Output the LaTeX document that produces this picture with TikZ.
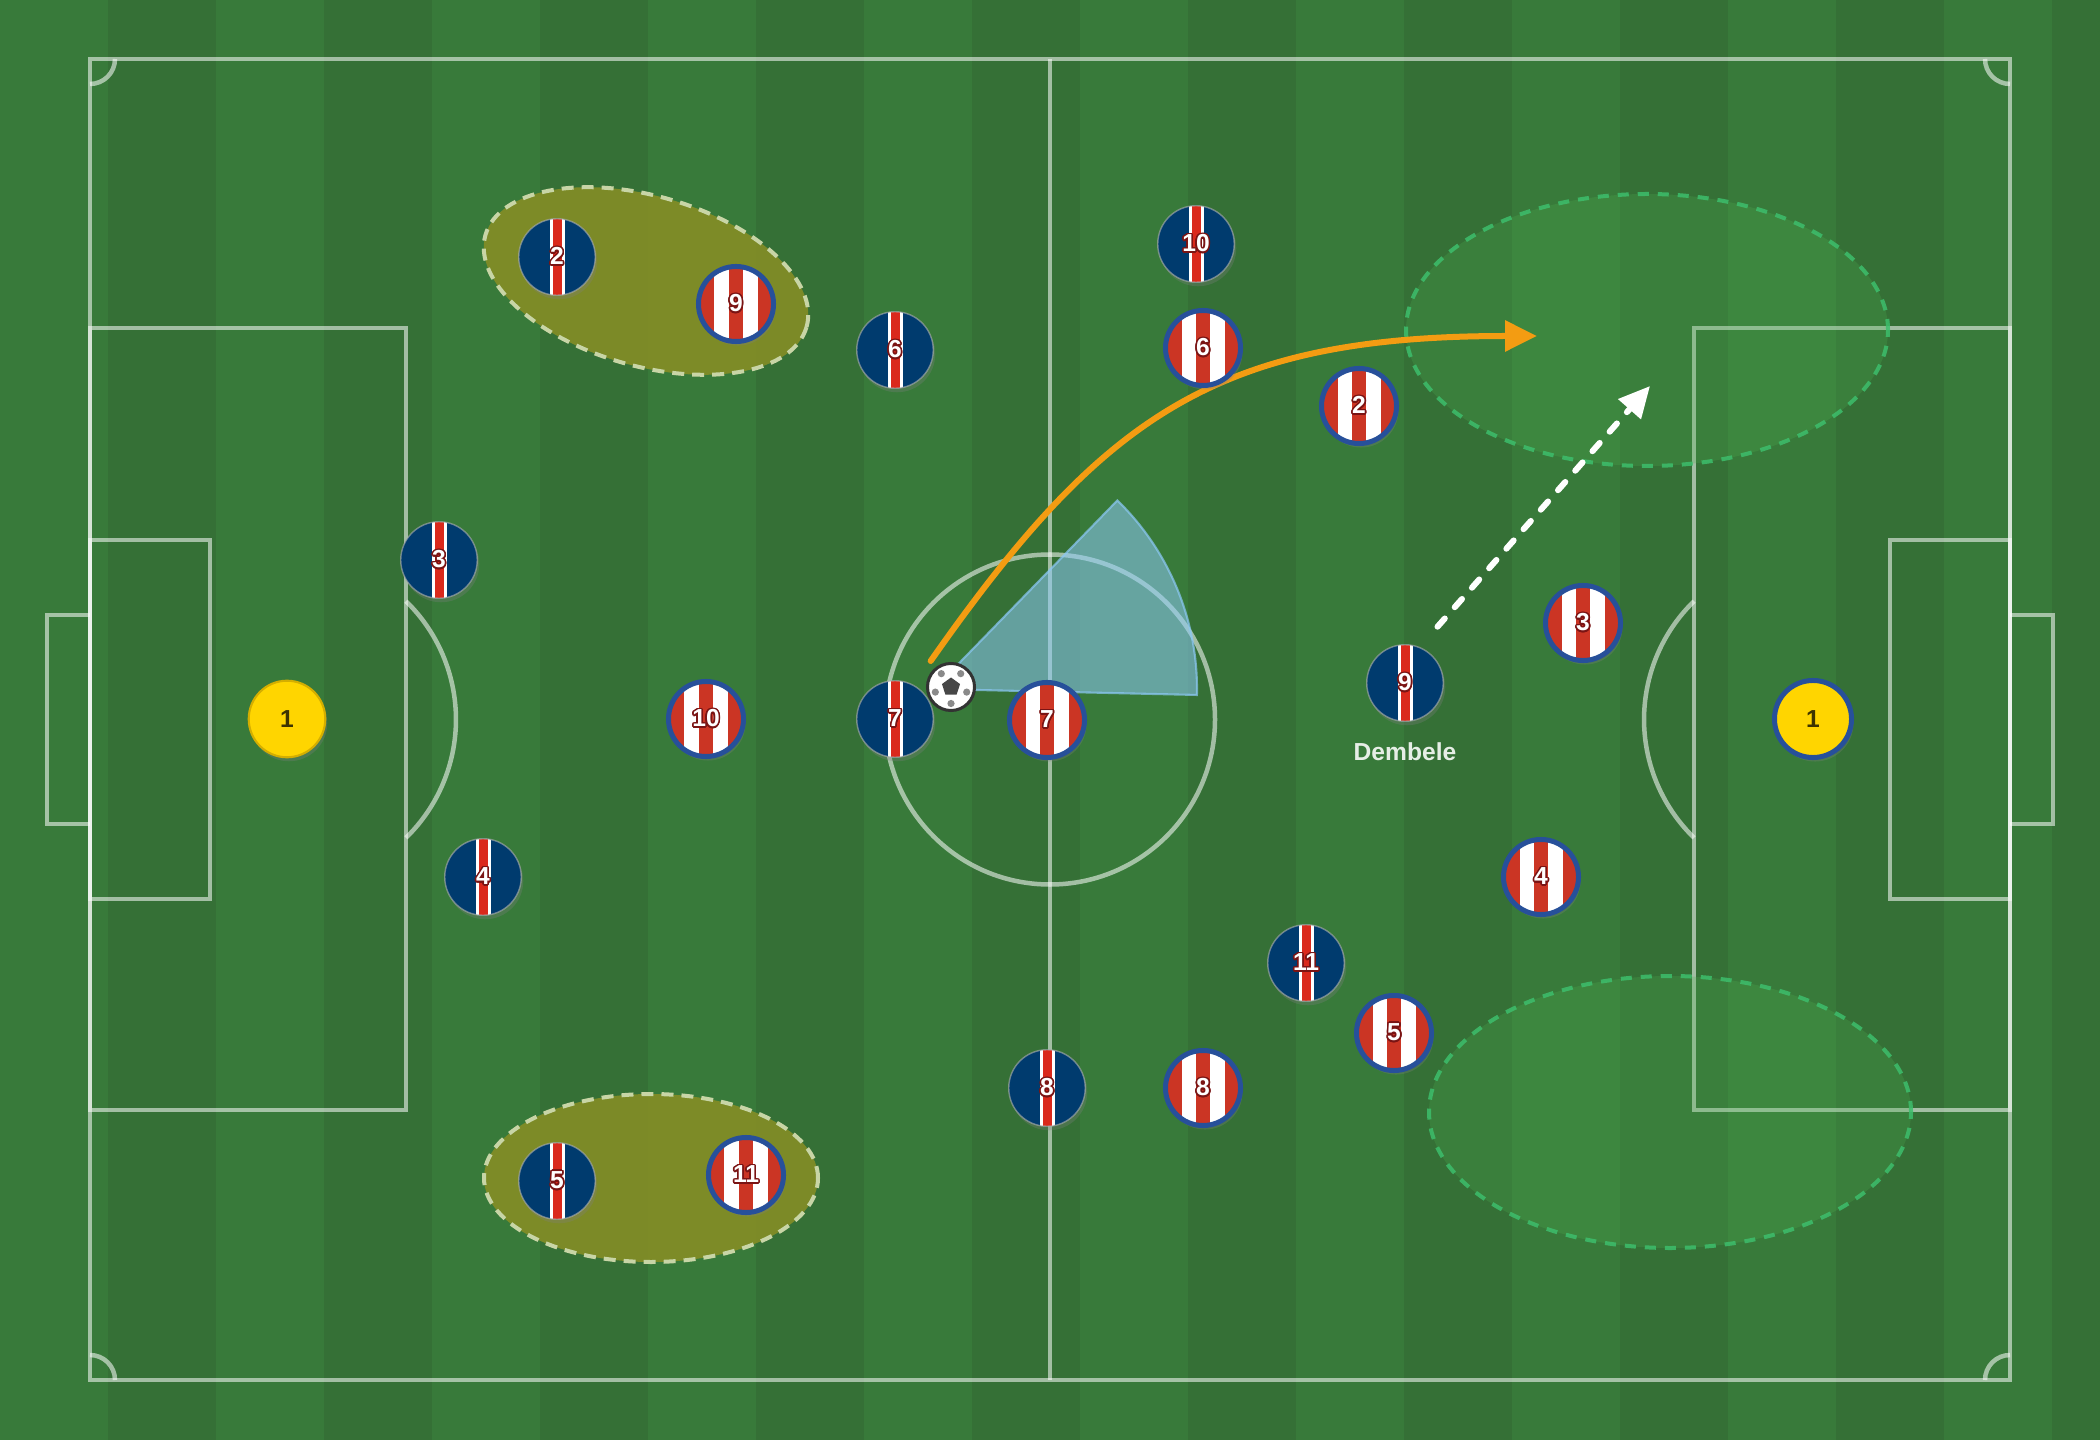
\documentclass[tikz,border=0pt]{standalone}
\usepackage{fontspec}
\setmainfont{Liberation Sans}
\usepackage{contour}
\contourlength{0.45pt}
\usepackage{tikz}
\usetikzlibrary{positioning,arrows.meta,shadows}
\tikzset{>={Triangle[length=0.31cm,width=0.29cm]}}

\definecolor{grasslight}{HTML}{387A3A}
\definecolor{grassdark}{HTML}{357036}
\definecolor{psgblue}{HTML}{003B6E}
\definecolor{psgred}{HTML}{DA291C}
\definecolor{atmred}{HTML}{CB3524}
\definecolor{atmblue}{HTML}{27509A}
\definecolor{numred}{HTML}{7A1414}
\definecolor{keeperyellow}{HTML}{FFD500}
\definecolor{keeperrim}{HTML}{D4AE00}
\definecolor{keepernum}{HTML}{3D3400}
\definecolor{passorange}{HTML}{F39C12}
\definecolor{pairolive}{HTML}{838D26}
\definecolor{pairrim}{HTML}{C8D5A6}
\definecolor{zonegreen}{HTML}{4CAF50}
\definecolor{zonerim}{HTML}{3DBE6C}
\definecolor{conefill}{HTML}{8CC8F5}
\definecolor{ballrim}{HTML}{333333}
\definecolor{balldot}{HTML}{8A8A8A}
\definecolor{namewhite}{HTML}{E6EEE6}

\tikzset{
  pitchline/.style={draw=white, draw opacity=0.55, line width=0.045cm},
  token/.style={circle, inner sep=0pt, text=white,
    font=\fontsize{7}{7}\selectfont\bfseries,
    drop shadow={shadow xshift=0.02cm, shadow yshift=-0.04cm, opacity=0.3}},
  psg/.style={token, minimum size=0.765cm, fill=psgblue,
    draw=gray!60, draw opacity=0.6, line width=0.4pt,
    path picture={
      \fill[white] ([xshift=-0.075cm]path picture bounding box.south)
        rectangle ([xshift=0.075cm]path picture bounding box.north);
      \fill[psgred] ([xshift=-0.045cm]path picture bounding box.south)
        rectangle ([xshift=0.045cm]path picture bounding box.north);
    }},
  atm/.style={token, minimum size=0.75cm, fill=white,
    draw=atmblue, line width=0.05cm,
    path picture={
      \fill[atmred] ([xshift=-0.07cm]path picture bounding box.south)
        rectangle ([xshift=0.07cm]path picture bounding box.north);
      \fill[atmred] ([xshift=0.215cm]path picture bounding box.south)
        rectangle (path picture bounding box.north east);
      \fill[atmred] ([xshift=-0.215cm]path picture bounding box.north)
        rectangle (path picture bounding box.south west);
    }},
  keeper/.style={token, minimum size=0.765cm, fill=keeperyellow,
    draw=keeperrim, line width=0.6pt, text=keepernum},
  ball/.style={circle, minimum size=0.47cm, inner sep=0pt, fill=white,
    draw=ballrim, line width=0.03cm,
    path picture={
      \begin{scope}[shift={(path picture bounding box.center)}]
        \fill[ballrim!90] (90:9.5) -- (162:9.5) -- (234:9.5) -- (306:9.5) -- (18:9.5) -- cycle;
        \foreach \a in {-90,-18,54,126,198}
          \fill[balldot] (\a:16.5) circle[radius=3.6];
      \end{scope}
    }},
  pairzone/.style={fill=pairolive, fill opacity=0.92, draw=pairrim,
    line width=0.04cm, dash pattern=on 0.12cm off 0.08cm},
  spacezone/.style={fill=zonegreen, fill opacity=0.25, draw=zonerim,
    draw opacity=0.85, line width=0.04cm, dash pattern=on 0.11cm off 0.09cm},
  coneshade/.style={fill=conefill, fill opacity=0.55, draw=conefill,
    draw opacity=0.7, line width=0.6pt},
  passarrow/.style={->, >={Triangle[length=0.32cm,width=0.30cm]},
    draw=passorange, line width=0.06cm, line cap=round},
  runarrow/.style={->, draw=white, line width=0.06cm, line cap=round,
    dash pattern=on 0.11cm off 0.15cm},
  namelabel/.style={inner sep=0pt, outer sep=0pt, text=namewhite,
    font=\fontsize{7}{7}\selectfont\bfseries}
}

\newcommand{\shirt}[1]{\contour{numred}{#1}}

\begin{document}
\begin{tikzpicture}[x=0.01cm,y=0.01cm]

  % Grass
  \useasboundingbox (0,0) rectangle (2100,-1440);
  \clip (0,0) rectangle (2100,-1440);
  \fill[grasslight] (0,0) rectangle (2100,-1440);
  \foreach \i in {1,3,...,19}
    \fill[grassdark] ({\i*108},0) rectangle ({(\i+1)*108},-1440);

  % Pitch
  \draw[pitchline] (90,-59) rectangle (2010,-1380);
  \draw[pitchline] (1050,-59) -- (1050,-1380);
  \draw[pitchline] (1050,-719.5) circle[radius=165];
  \draw[pitchline] (90,-328) rectangle (406,-1110);
  \draw[pitchline] (90,-540) rectangle (210,-899);
  \draw[pitchline] (90,-615) -- (47,-615) -- (47,-824) -- (90,-824);
  \draw[pitchline] (406,-601.2) arc[start angle=45.8, end angle=-45.8, radius=165];
  \draw[pitchline] (1694,-328) rectangle (2010,-1110);
  \draw[pitchline] (1890,-540) rectangle (2010,-899);
  \draw[pitchline] (2010,-615) -- (2053,-615) -- (2053,-824) -- (2010,-824);
  \draw[pitchline] (1694,-601.2) arc[start angle=134.2, end angle=225.8, radius=165];
  \draw[pitchline] (115,-59) arc[start angle=0, end angle=-90, radius=25];
  \draw[pitchline] (1985,-59) arc[start angle=180, end angle=270, radius=25];
  \draw[pitchline] (90,-1355) arc[start angle=90, end angle=0, radius=25];
  \draw[pitchline] (2010,-1355) arc[start angle=90, end angle=180, radius=25];

  % Zones
  \draw[pairzone] (646,-281) circle[x radius=167, y radius=85, rotate=-16];
  \draw[pairzone] (651,-1178) circle[x radius=167, y radius=84];
  \draw[spacezone] (1647,-330) circle[x radius=241, y radius=136];
  \draw[spacezone] (1670,-1112) circle[x radius=241, y radius=136];

  % Cone
  \filldraw[coneshade] (934,-689) -- ++(-1.3:263)
    arc[start angle=-1.3, end angle=45.8, radius=263] -- cycle;

  % Ball and pass
  \node[ball] (ball) at (951,-687) {};
  \coordinate (target) at (1537,-336);
  \draw[passarrow] ([shift={(128:8)}]ball.128) .. controls (1103,-415) and (1217,-336) .. (target);

  % PSG
  \node[keeper] (psg1) at (287,-719) {1};
  \node[psg] (psg2)  at (557,-257)  {\shirt{2}};
  \node[psg] (psg3)  at (439,-560)  {\shirt{3}};
  \node[psg] (psg4)  at (483,-877)  {\shirt{4}};
  \node[psg] (psg5)  at (557,-1181) {\shirt{5}};
  \node[psg] (psg6)  at (895,-350)  {\shirt{6}};
  \node[psg] (psg7)  at (895,-719)  {\shirt{7}};
  \node[psg] (psg8)  at (1047,-1088) {\shirt{8}};
  \node[psg] (psg9)  at (1405,-683) {\shirt{9}};
  \node[psg] (psg10) at (1196,-244) {\shirt{10}};
  \node[psg] (psg11) at (1306,-963) {\shirt{11}};

  % Atletico
  \node[keeper, draw=atmblue, line width=0.05cm, minimum size=0.77cm] (atm1) at (1813,-719) {1};
  \node[atm] (atm2)  at (1359,-406)  {\shirt{2}};
  \node[atm] (atm3)  at (1583,-623)  {\shirt{3}};
  \node[atm] (atm4)  at (1541,-877)  {\shirt{4}};
  \node[atm] (atm5)  at (1394,-1033) {\shirt{5}};
  \node[atm] (atm6)  at (1203,-348)  {\shirt{6}};
  \node[atm] (atm7)  at (1047,-720)  {\shirt{7}};
  \node[atm] (atm8)  at (1203,-1088) {\shirt{8}};
  \node[atm] (atm9)  at (736,-304)   {\shirt{9}};
  \node[atm] (atm10) at (706,-719)   {\shirt{10}};
  \node[atm] (atm11) at (746,-1175)  {\shirt{11}};

  \node[namelabel, below=0.21cm of psg9] (dembele) {Dembele};

  % Run
  \coordinate (space) at (1650,-386);
  \draw[runarrow] ([shift={(60:26)}]psg9.60) -- (space);

\end{tikzpicture}
\end{document}
